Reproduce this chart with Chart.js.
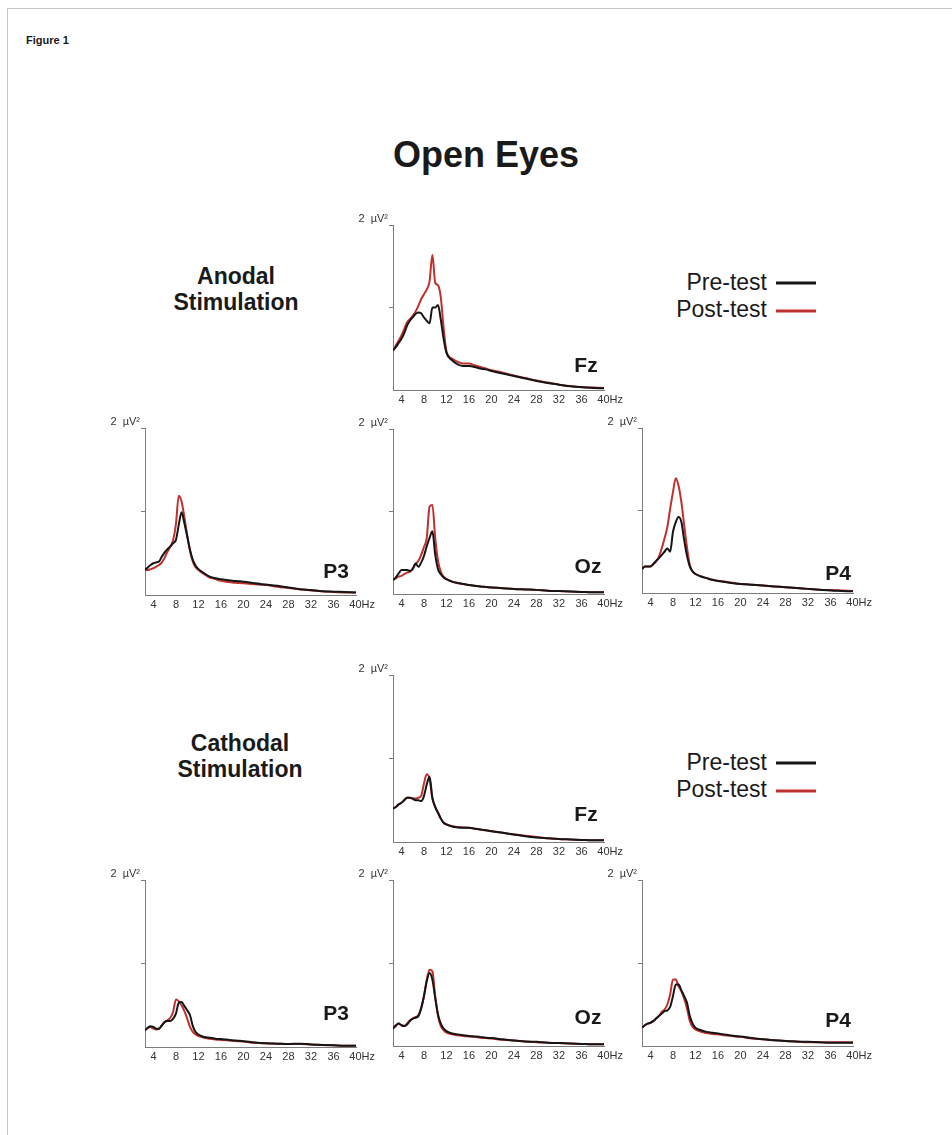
<!DOCTYPE html>
<html>
<head>
<meta charset="utf-8">
<title>Open Eyes – power spectra</title>
<script src="https://cdn.jsdelivr.net/npm/chart.js@4.4.1/dist/chart.umd.min.js"></script>
<style>
  html, body { margin: 0; padding: 0; background: #fff; }
  body {
    width: 952px; height: 1135px; position: relative; overflow: hidden;
    font-family: "Liberation Sans", Arial, Helvetica, sans-serif; color: #1a1a1a;
  }
  .frame {
    position: absolute; left: 7px; top: 8px; width: 960px; height: 1140px;
    border-left: 1px solid #c6c6c6; border-top: 1px solid #c6c6c6;
  }
  .txt { position: absolute; white-space: nowrap; transform: translate(-50%, -50%); line-height: 1; }
  .fig { position: absolute; left: 26px; top: 34px; font-weight: bold; font-size: 11px; }
  .title { font-weight: bold; font-size: 36px; }
  .cond { font-weight: bold; font-size: 23px; text-align: center; line-height: 26px; }
  .site { font-weight: bold; font-size: 21px; }
  .leg { position: absolute; font-size: 23px; line-height: 1; white-space: nowrap; transform: translate(-100%, -50%); }
  .legline { position: absolute; height: 3px; width: 40px; transform: translateY(-50%); }
  canvas { position: absolute; }
</style>
</head>
<body>
<div class="frame"></div>
<div class="fig">Figure 1</div>
<div class="txt title" style="left:486px; top:155px;">Open Eyes</div>

<div class="txt cond" style="left:236px; top:289px;">Anodal<br>Stimulation</div>
<div class="txt cond" style="left:240px; top:756px;">Cathodal<br>Stimulation</div>

<div class="leg" style="left:767px; top:282px;">Pre-test</div>
<div class="leg" style="left:767px; top:309px;">Post-test</div>
<div class="legline" style="left:776px; top:283px; background:#151515;"></div>
<div class="legline" style="left:776px; top:311px; background:#c0302c;"></div>

<div class="leg" style="left:767px; top:762px;">Pre-test</div>
<div class="leg" style="left:767px; top:789px;">Post-test</div>
<div class="legline" style="left:776px; top:763px; background:#151515;"></div>
<div class="legline" style="left:776px; top:791px; background:#c0302c;"></div>

<script>
// Frequency bins (Hz) shared by every spectrum
const freqHz = [2.5, 3, 3.5, 4, 4.5, 5, 5.5, 6, 6.5, 7, 7.5, 8, 8.5, 9, 9.5, 10, 10.5, 11, 11.5, 12,
                13, 14, 15, 16, 17, 18, 19, 20, 22, 24, 26, 28, 30, 32, 34, 36, 38, 40];

// Axis ticks (the last x label keeps "40" on its tick, with the unit trailing)
const xTickValues = [4, 8, 12, 16, 20, 24, 28, 32, 36, 40];
const xTickLabels = ['4', '8', '12', '16', '20', '24', '28', '32', '36', '\u00a0\u00a0\u00a0\u00a040Hz'];
const yTickValues = [0, 1, 2];
const yTickLabels = ['', '', '2  µV²'];

// Power (µV²) – anodal stimulation
const anodalFzPre  = [0.48, 0.52, 0.57, 0.62, 0.69, 0.78, 0.84, 0.88, 0.92, 0.94, 0.93, 0.88, 0.84, 0.81, 1.00, 1.00, 1.03, 0.85, 0.62, 0.45,
                      0.36, 0.31, 0.29, 0.29, 0.28, 0.26, 0.25, 0.23, 0.20, 0.17, 0.14, 0.11, 0.085, 0.065, 0.045, 0.032, 0.025, 0.02];
const anodalFzPost = [0.48, 0.54, 0.60, 0.66, 0.74, 0.82, 0.86, 0.90, 0.95, 1.02, 1.10, 1.16, 1.22, 1.32, 1.64, 1.30, 1.27, 1.12, 0.75, 0.47,
                      0.38, 0.34, 0.32, 0.32, 0.30, 0.28, 0.26, 0.24, 0.21, 0.175, 0.145, 0.115, 0.09, 0.065, 0.048, 0.035, 0.03, 0.025];

const anodalP3Pre  = [0.30, 0.33, 0.36, 0.38, 0.39, 0.40, 0.46, 0.51, 0.55, 0.58, 0.62, 0.66, 0.84, 0.99, 0.86, 0.70, 0.54, 0.42, 0.35, 0.31,
                      0.26, 0.22, 0.20, 0.19, 0.18, 0.17, 0.165, 0.16, 0.14, 0.125, 0.11, 0.09, 0.07, 0.06, 0.045, 0.04, 0.035, 0.03];
const anodalP3Post = [0.30, 0.30, 0.31, 0.32, 0.34, 0.36, 0.39, 0.45, 0.52, 0.58, 0.66, 0.85, 1.19, 1.12, 0.93, 0.72, 0.53, 0.40, 0.33, 0.30,
                      0.25, 0.21, 0.19, 0.17, 0.16, 0.15, 0.145, 0.14, 0.13, 0.12, 0.10, 0.085, 0.07, 0.055, 0.045, 0.035, 0.03, 0.03];

const anodalOzPre  = [0.17, 0.20, 0.25, 0.29, 0.29, 0.29, 0.28, 0.30, 0.37, 0.33, 0.38, 0.46, 0.58, 0.68, 0.76, 0.48, 0.30, 0.24, 0.20, 0.18,
                      0.15, 0.135, 0.12, 0.11, 0.10, 0.09, 0.085, 0.08, 0.07, 0.06, 0.055, 0.05, 0.04, 0.035, 0.03, 0.025, 0.02, 0.02];
const anodalOzPost = [0.17, 0.19, 0.21, 0.22, 0.24, 0.26, 0.27, 0.31, 0.36, 0.40, 0.47, 0.57, 0.68, 1.06, 1.08, 0.68, 0.40, 0.27, 0.21, 0.18,
                      0.15, 0.13, 0.12, 0.11, 0.10, 0.09, 0.085, 0.08, 0.07, 0.06, 0.055, 0.05, 0.04, 0.035, 0.03, 0.025, 0.02, 0.02];

const anodalP4Pre  = [0.29, 0.32, 0.32, 0.32, 0.35, 0.39, 0.42, 0.46, 0.50, 0.54, 0.50, 0.74, 0.86, 0.92, 0.86, 0.64, 0.45, 0.32, 0.26, 0.23,
                      0.20, 0.18, 0.16, 0.145, 0.135, 0.125, 0.115, 0.11, 0.10, 0.09, 0.08, 0.07, 0.06, 0.05, 0.04, 0.03, 0.025, 0.02];
const anodalP4Post = [0.29, 0.32, 0.32, 0.32, 0.35, 0.38, 0.44, 0.54, 0.66, 0.80, 1.02, 1.22, 1.39, 1.30, 1.10, 0.82, 0.55, 0.34, 0.26, 0.23,
                      0.20, 0.18, 0.16, 0.15, 0.14, 0.13, 0.12, 0.11, 0.10, 0.09, 0.08, 0.07, 0.06, 0.05, 0.04, 0.035, 0.03, 0.025];

// Power (µV²) – cathodal stimulation
const cathodalFzPre  = [0.40, 0.42, 0.45, 0.47, 0.50, 0.53, 0.53, 0.52, 0.50, 0.50, 0.49, 0.55, 0.69, 0.78, 0.53, 0.42, 0.35, 0.28, 0.23, 0.21,
                        0.185, 0.175, 0.17, 0.17, 0.16, 0.15, 0.14, 0.13, 0.11, 0.09, 0.07, 0.055, 0.045, 0.035, 0.03, 0.025, 0.02, 0.02];
const cathodalFzPost = [0.40, 0.42, 0.45, 0.47, 0.50, 0.53, 0.53, 0.52, 0.52, 0.53, 0.55, 0.70, 0.81, 0.75, 0.52, 0.42, 0.35, 0.28, 0.23, 0.21,
                        0.19, 0.18, 0.175, 0.17, 0.16, 0.15, 0.14, 0.13, 0.11, 0.09, 0.075, 0.06, 0.045, 0.035, 0.03, 0.025, 0.02, 0.02];

const cathodalP3Pre  = [0.20, 0.23, 0.25, 0.24, 0.22, 0.22, 0.26, 0.30, 0.31, 0.31, 0.34, 0.40, 0.53, 0.54, 0.49, 0.44, 0.38, 0.25, 0.18, 0.15,
                        0.12, 0.11, 0.10, 0.095, 0.09, 0.08, 0.075, 0.07, 0.055, 0.045, 0.04, 0.035, 0.04, 0.03, 0.025, 0.02, 0.015, 0.015];
const cathodalP3Post = [0.20, 0.23, 0.24, 0.22, 0.21, 0.22, 0.26, 0.30, 0.32, 0.35, 0.42, 0.57, 0.55, 0.50, 0.43, 0.34, 0.24, 0.18, 0.15, 0.13,
                        0.11, 0.10, 0.09, 0.085, 0.08, 0.075, 0.07, 0.065, 0.05, 0.045, 0.04, 0.035, 0.035, 0.03, 0.025, 0.02, 0.015, 0.015];

const cathodalOzPre  = [0.21, 0.25, 0.27, 0.25, 0.24, 0.26, 0.30, 0.33, 0.34, 0.36, 0.45, 0.60, 0.78, 0.88, 0.80, 0.58, 0.38, 0.27, 0.21, 0.18,
                        0.15, 0.14, 0.13, 0.12, 0.115, 0.11, 0.10, 0.095, 0.08, 0.065, 0.055, 0.05, 0.04, 0.035, 0.03, 0.025, 0.02, 0.02];
const cathodalOzPost = [0.21, 0.24, 0.27, 0.25, 0.24, 0.27, 0.31, 0.33, 0.35, 0.37, 0.46, 0.60, 0.80, 0.92, 0.90, 0.60, 0.36, 0.24, 0.19, 0.16,
                        0.14, 0.13, 0.12, 0.115, 0.11, 0.10, 0.095, 0.09, 0.075, 0.065, 0.055, 0.045, 0.04, 0.035, 0.03, 0.025, 0.02, 0.02];

const cathodalP4Pre  = [0.22, 0.25, 0.27, 0.28, 0.30, 0.33, 0.36, 0.39, 0.42, 0.43, 0.47, 0.60, 0.74, 0.74, 0.67, 0.60, 0.52, 0.36, 0.27, 0.22,
                        0.19, 0.17, 0.16, 0.15, 0.14, 0.13, 0.12, 0.115, 0.095, 0.08, 0.07, 0.06, 0.055, 0.05, 0.045, 0.04, 0.04, 0.04];
const cathodalP4Post = [0.22, 0.25, 0.27, 0.28, 0.30, 0.33, 0.36, 0.41, 0.44, 0.50, 0.62, 0.80, 0.80, 0.72, 0.66, 0.57, 0.45, 0.30, 0.23, 0.20,
                        0.17, 0.155, 0.145, 0.14, 0.13, 0.125, 0.115, 0.11, 0.09, 0.08, 0.07, 0.06, 0.05, 0.045, 0.045, 0.045, 0.045, 0.045];

// Panel placement on the page: y-axis x position, plot top/bottom, site-label centre
const panels = [
  { site: 'Fz', axisX: 393, top: 225, bottom: 390,  lx: 586, ly: 364,  pre: anodalFzPre,    post: anodalFzPost },
  { site: 'P3', axisX: 145, top: 428, bottom: 595,  lx: 336, ly: 570,  pre: anodalP3Pre,    post: anodalP3Post },
  { site: 'Oz', axisX: 393, top: 429, bottom: 594,  lx: 588, ly: 565,  pre: anodalOzPre,    post: anodalOzPost },
  { site: 'P4', axisX: 642, top: 428, bottom: 593,  lx: 838, ly: 572,  pre: anodalP4Pre,    post: anodalP4Post },
  { site: 'Fz', axisX: 393, top: 675, bottom: 842,  lx: 586, ly: 813,  pre: cathodalFzPre,  post: cathodalFzPost },
  { site: 'P3', axisX: 145, top: 880, bottom: 1047, lx: 336, ly: 1012, pre: cathodalP3Pre,  post: cathodalP3Post },
  { site: 'Oz', axisX: 393, top: 880, bottom: 1046, lx: 588, ly: 1016, pre: cathodalOzPre,  post: cathodalOzPost },
  { site: 'P4', axisX: 642, top: 880, bottom: 1046, lx: 838, ly: 1019, pre: cathodalP4Pre,  post: cathodalP4Post }
];

const PLOT_W = 211;
const PAD_L = 56, PAD_R = 32, PAD_T = 20, PAD_B = 22;
const PRE_COLOR = '#151515';
const POST_COLOR = '#c0302c';
const AXIS_COLOR = '#7d7d7d';
const FONT = '"Liberation Sans", Arial, Helvetica, sans-serif';

function series(values, color) {
  return {
    data: freqHz.map((f, i) => ({ x: f, y: values[i] })),
    borderColor: color,
    borderWidth: 2,
    pointRadius: 0,
    fill: false,
    tension: 0.25,
    cubicInterpolationMode: 'monotone'
  };
}

function makePanel(p) {
  const cv = document.createElement('canvas');
  cv.width = PAD_L + PLOT_W + PAD_R;
  cv.height = PAD_T + (p.bottom - p.top) + PAD_B;
  cv.style.left = (p.axisX - PAD_L) + 'px';
  cv.style.top = (p.top - PAD_T) + 'px';
  document.body.appendChild(cv);

  new Chart(cv, {
    type: 'line',
    data: { datasets: [series(p.pre, PRE_COLOR), series(p.post, POST_COLOR)] },
    options: {
      responsive: false,
      animation: false,
      events: [],
      layout: { padding: { top: PAD_T, right: PAD_R, left: 0, bottom: 0 } },
      plugins: { legend: { display: false }, tooltip: { enabled: false } },
      scales: {
        x: {
          type: 'linear', min: 2.5, max: 40,
          afterBuildTicks: s => { s.ticks = xTickValues.map(v => ({ value: v })); },
          afterFit: s => { s.height = PAD_B; },
          ticks: {
            callback: (v, i) => xTickLabels[i],
            autoSkip: false, maxRotation: 0, padding: 3,
            color: '#333', font: { size: 11, family: FONT }
          },
          grid: { display: true, drawOnChartArea: false, drawTicks: false },
          border: { display: true, color: AXIS_COLOR, width: 1 }
        },
        y: {
          type: 'linear', min: 0, max: 2,
          afterBuildTicks: s => { s.ticks = yTickValues.map(v => ({ value: v })); },
          afterFit: s => { s.width = PAD_L; },
          ticks: {
            callback: (v, i) => yTickLabels[i],
            padding: 1, labelOffset: -6,
            color: '#333', font: { size: 11, family: FONT }
          },
          grid: {
            drawOnChartArea: false, tickLength: 4, lineWidth: 1,
            color: c => (c.tick && c.tick.value === 0) ? 'rgba(0,0,0,0)' : AXIS_COLOR
          },
          border: { display: true, color: AXIS_COLOR, width: 1 }
        }
      }
    }
  });

  const lab = document.createElement('div');
  lab.className = 'txt site';
  lab.style.left = p.lx + 'px';
  lab.style.top = p.ly + 'px';
  lab.textContent = p.site;
  document.body.appendChild(lab);
}

panels.forEach(makePanel);
</script>
</body>
</html>
